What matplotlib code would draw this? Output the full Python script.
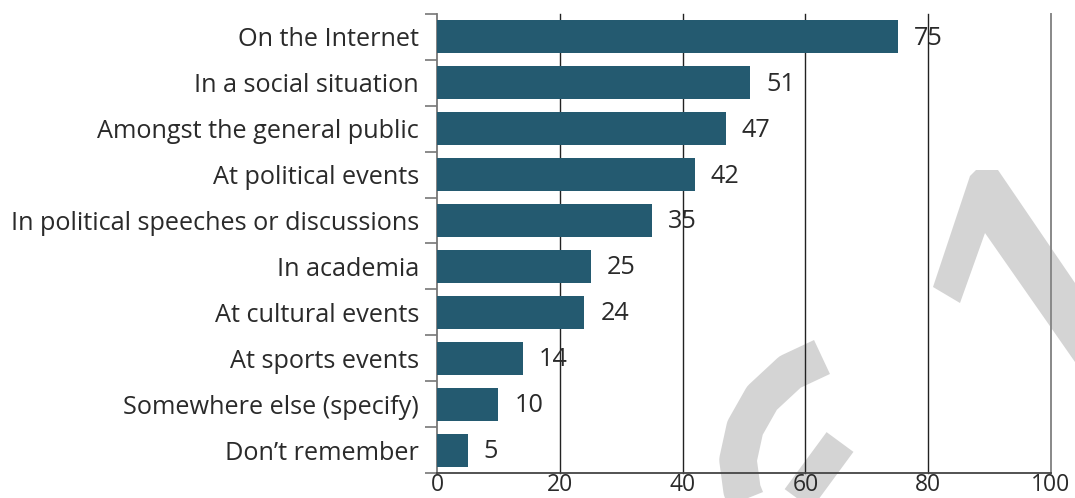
import matplotlib
matplotlib.use("Agg")
import matplotlib.pyplot as plt
from matplotlib.patches import Polygon
from matplotlib.lines import Line2D
import numpy as np

categories = ["On the Internet", "In a social situation", "Amongst the general public",
              "At political events", "In political speeches or discussions", "In academia",
              "At cultural events", "At sports events", "Somewhere else (specify)",
              "Don\u2019t remember"]
values = [75, 51, 47, 42, 35, 25, 24, 14, 10, 5]
xticks = [0, 20, 40, 60, 80, 100]

W, H = 1075, 498
plt.rcParams['font.family'] = ['Open Sans', 'DejaVu Sans']
fig = plt.figure(figsize=(W / 100, H / 100), dpi=100)

# watermark (decorative, figure coords)
def fx(x): return x / W
def fy(y): return 1 - y / H
wm = '#d4d4d4'
fig.patches.append(Polygon([(fx(970), fy(176)), (fx(976), fy(170)), (fx(998), fy(170)),
                            (fx(1075), fy(283)), (fx(1075), fy(362)), (fx(985), fy(233)),
                            (fx(960), fy(303)), (fx(933), fy(287))],
                           closed=True, transform=fig.transFigure, facecolor=wm,
                           edgecolor='none', zorder=0))
arc_x = [822, 790, 762, 745, 738, 742, 752, 768]
arc_y = [357, 372, 398, 428, 460, 490, 515, 535]
fig.lines.append(Line2D([fx(v) for v in arc_x], [fy(v) for v in arc_y],
                        transform=fig.transFigure, color=wm, lw=27,
                        solid_capstyle='butt', solid_joinstyle='round', zorder=0))
fig.lines.append(Line2D([fx(790), fx(840)], [fy(510), fy(442)],
                        transform=fig.transFigure, color=wm, lw=24,
                        solid_capstyle='butt', zorder=0))

ax = fig.add_axes([437 / W, 1 - 473 / H, (1051 - 437) / W, (473 - 14) / H])
ax.set_zorder(2)
ax.patch.set_alpha(0)

fs = 18.2
fw = 'normal'
tc = '#2a2a2a'
y = np.arange(len(categories))
ax.barh(y, values, height=0.72, color='#245a70', zorder=3)
for yi, v in zip(y, values):
    ax.text(v + 2.6, yi + 0.03, str(v), va='center', ha='left', fontsize=fs,
            fontweight=fw, color=tc, zorder=4)

ax.set_xlim(0, 100)
ax.set_ylim(len(categories) - 0.5, -0.5)
ax.set_yticks(y)
ax.set_yticklabels(categories, fontsize=fs, fontweight=fw, color=tc)
ax.tick_params(axis='y', length=0, pad=13)
ax.set_yticks(np.arange(len(categories) + 1) - 0.5, minor=True)
ax.tick_params(axis='y', which='minor', length=9, width=1.2, color='#777777')
ax.set_xticks(xticks)
ax.set_xticklabels([str(t) for t in xticks], fontsize=16.5, fontweight=fw, color=tc)
ax.tick_params(axis='x', length=0, pad=0)
for t in xticks[1:]:
    ax.axvline(t, color='#222222' if t < 100 else '#888888',
               lw=1.0 if t < 100 else 1.4, zorder=1, clip_on=False)
for s in ['top', 'right']:
    ax.spines[s].set_visible(False)
ax.spines['left'].set_color('#777777')
ax.spines['left'].set_linewidth(1.3)
ax.spines['bottom'].set_color('#444444')
ax.spines['bottom'].set_linewidth(1.3)

fig.savefig("out.png", dpi=100)
